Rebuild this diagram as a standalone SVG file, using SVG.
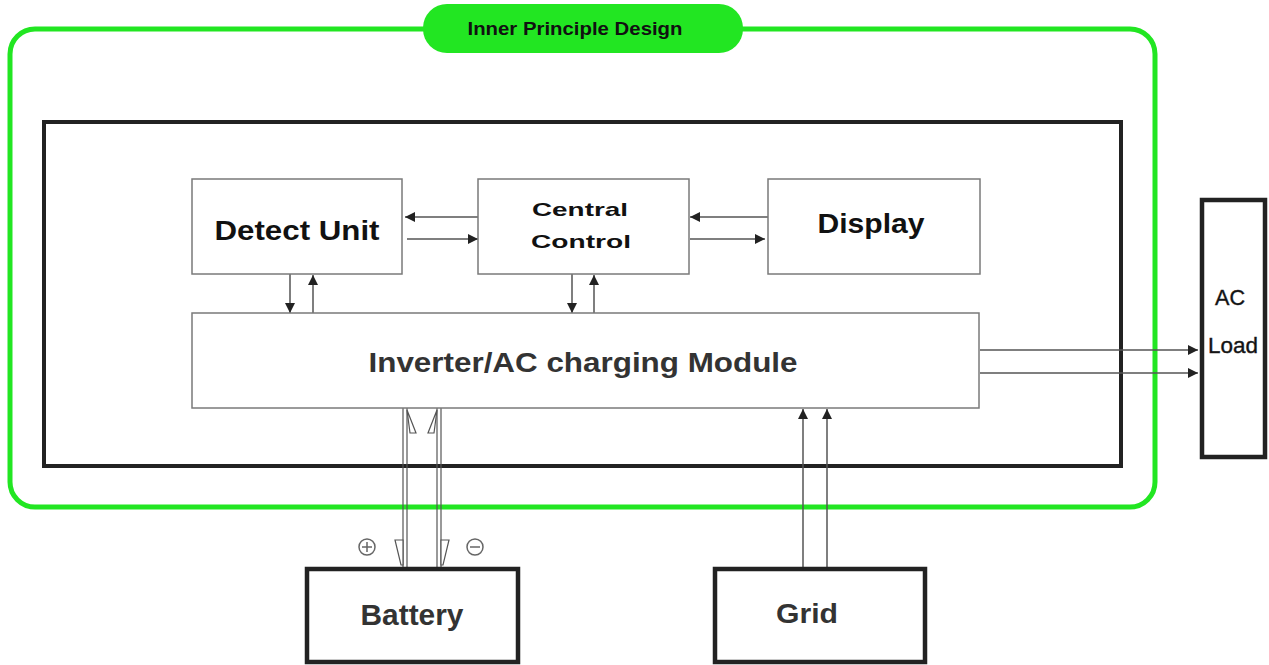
<svg xmlns="http://www.w3.org/2000/svg" width="1269" height="665" viewBox="0 0 1269 665">
<defs>
<style>
.box{fill:#fff;stroke:#7a7a7a;stroke-width:1.5}
.heavy{fill:#fff;stroke:#222;stroke-width:4.5}
.frame{fill:none;stroke:#222;stroke-width:4}
.green{fill:none;stroke:#22e622;stroke-width:5}
.line{stroke:#555;stroke-width:1.5;fill:none}
.wire{stroke:#555;stroke-width:1.2;fill:none}
.wedge{fill:#fff;stroke:#555;stroke-width:1.2}
.t{font-family:"Liberation Sans",Arial,sans-serif;font-weight:bold;fill:#111;text-anchor:middle}
.g{fill:#333}
.sym{stroke:#666;stroke-width:1.5;fill:none}
</style>
<marker id="ah" viewBox="0 0 10 10" refX="10" refY="5" markerWidth="12" markerHeight="10" markerUnits="userSpaceOnUse" orient="auto">
<path d="M0,0 L10,5 L0,10 z" fill="#222"/>
</marker>
</defs>
<rect width="1269" height="665" fill="#fff"/>

<g id="frame-green">
<rect class="green" x="10" y="29" width="1145" height="478" rx="25"/>
</g>
<g id="label-inner">
<rect x="423" y="4" width="320" height="49" rx="24" fill="#22e622"/>
<text class="t" x="575" y="35" font-size="18" textLength="215" lengthAdjust="spacingAndGlyphs">Inner Principle Design</text>
</g>
<g id="frame-black">
<rect class="frame" x="44" y="122" width="1077" height="344"/>
</g>

<g id="connectors">
<line class="line" x1="478" y1="217" x2="405" y2="217" marker-end="url(#ah)"/>
<line class="line" x1="407" y1="239" x2="478" y2="239" marker-end="url(#ah)"/>
<line class="line" x1="768" y1="217" x2="690" y2="217" marker-end="url(#ah)"/>
<line class="line" x1="690" y1="239" x2="765" y2="239" marker-end="url(#ah)"/>
<line class="line" x1="290" y1="274" x2="290" y2="313" marker-end="url(#ah)"/>
<line class="line" x1="313" y1="313" x2="313" y2="275" marker-end="url(#ah)"/>
<line class="line" x1="572" y1="274" x2="572" y2="313" marker-end="url(#ah)"/>
<line class="line" x1="594" y1="313" x2="594" y2="275" marker-end="url(#ah)"/>
<line class="line" x1="980" y1="350" x2="1198" y2="350" marker-end="url(#ah)"/>
<line class="line" x1="980" y1="373" x2="1198" y2="373" marker-end="url(#ah)"/>
<line class="line" x1="803" y1="567" x2="803" y2="409" marker-end="url(#ah)"/>
<line class="line" x1="827" y1="567" x2="827" y2="409" marker-end="url(#ah)"/>
<line class="wire" x1="403" y1="408" x2="403" y2="567"/>
<line class="wire" x1="407" y1="408" x2="407" y2="567"/>
<line class="wire" x1="437" y1="408" x2="437" y2="567"/>
<line class="wire" x1="441" y1="408" x2="441" y2="567"/>
<polygon class="wedge" points="407,410 416,433 410,433"/>
<polygon class="wedge" points="437,410 428,433 434,433"/>
<polygon class="wedge" points="395,540 403,540 403,565 401,565"/>
<polygon class="wedge" points="441,540 449,540 443,565 441,565"/>
</g>

<g id="detect-unit">
<rect class="box" x="192" y="179" width="210" height="95"/>
<text class="t" x="297" y="240" font-size="28" textLength="165" lengthAdjust="spacingAndGlyphs">Detect Unit</text>
</g>
<g id="central-control">
<rect class="box" x="478" y="179" width="211" height="95"/>
<text class="t" x="580" y="216" font-size="19" textLength="96" lengthAdjust="spacingAndGlyphs">Central</text>
<text class="t" x="581" y="248" font-size="19" textLength="100" lengthAdjust="spacingAndGlyphs">Control</text>
</g>
<g id="display">
<rect class="box" x="768" y="179" width="212" height="95"/>
<text class="t" x="871" y="233" font-size="28" textLength="107" lengthAdjust="spacingAndGlyphs">Display</text>
</g>
<g id="inverter-module">
<rect class="box" x="192" y="313" width="787" height="95"/>
<text class="t g" x="583" y="372" font-size="28" textLength="429" lengthAdjust="spacingAndGlyphs">Inverter/AC charging Module</text>
</g>
<g id="ac-load">
<rect class="heavy" x="1202" y="200" width="63" height="257" stroke-width="4"/>
<text class="t" x="1230" y="305" font-size="22" fill="#222" textLength="30" lengthAdjust="spacingAndGlyphs" style="font-weight:normal;stroke:#222;stroke-width:0.4">AC</text>
<text class="t" x="1233" y="353" font-size="22" fill="#222" textLength="50" lengthAdjust="spacingAndGlyphs" style="font-weight:normal;stroke:#222;stroke-width:0.4">Load</text>
</g>
<g id="battery">
<rect class="heavy" x="307" y="569" width="211" height="93"/>
<text class="t g" x="412" y="625" font-size="30" textLength="103" lengthAdjust="spacingAndGlyphs">Battery</text>
<circle class="sym" cx="367" cy="547" r="8"/>
<path class="sym" d="M362,547 H372 M367,542 V552"/>
<circle class="sym" cx="475" cy="547" r="8"/>
<path class="sym" d="M470,547 H480"/>
</g>
<g id="grid">
<rect class="heavy" x="715" y="569" width="210" height="93"/>
<text class="t g" x="807" y="623" font-size="28" textLength="62" lengthAdjust="spacingAndGlyphs">Grid</text>
</g>
</svg>
